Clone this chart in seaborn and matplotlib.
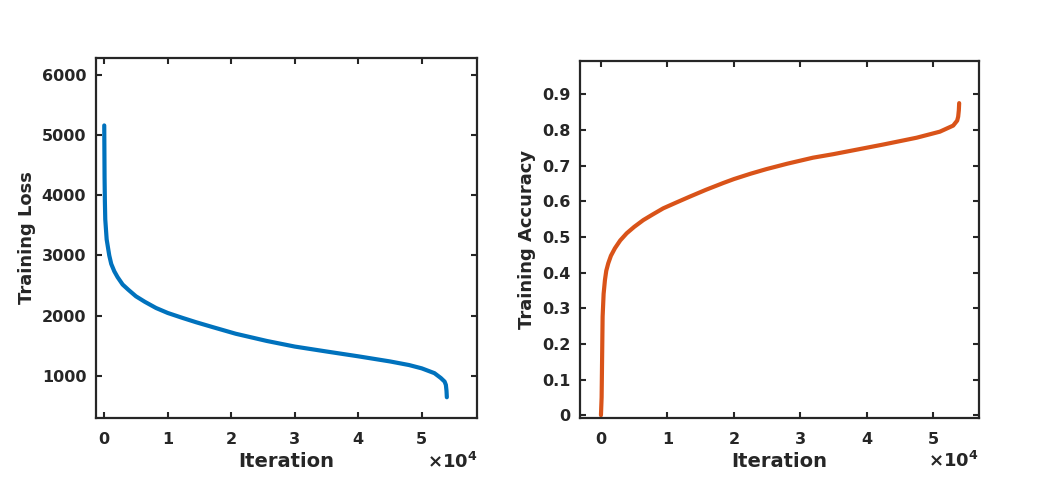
import seaborn as sns
import pandas as pd
import matplotlib.pyplot as plt

# curvas
iter_loss = [0, 50, 100, 160, 380, 790, 1100, 1580, 2100, 2900, 3800, 4990, 6400, 8150,
             10000, 12350, 14500, 17080, 20700, 25600, 30000, 35000, 40000, 45000,
             48000, 50000, 52000, 53000, 53600, 53800, 53900, 53950]
loss = [5160, 4300, 3900, 3600, 3267, 3000, 2860, 2738, 2640, 2517, 2430, 2322, 2230, 2128,
        2045, 1962, 1890, 1810, 1700, 1580, 1487, 1405, 1325, 1240,
        1180, 1125, 1045, 965, 905, 850, 750, 645]

iter_acc = [0, 100, 200, 250, 400, 600, 800, 1100, 1500, 2100, 2900, 3870, 5000, 6370,
            7800, 9370, 11300, 13390, 15800, 18400, 20000, 22500, 24900, 28000, 31900,
            35000, 37500, 40000, 42500, 47500, 51000, 53000, 53600, 53750, 53850, 53900]
acc = [0, 0.05, 0.2, 0.276, 0.34, 0.379, 0.405, 0.426, 0.447, 0.468, 0.49, 0.51, 0.528, 0.547,
       0.563, 0.58, 0.596, 0.613, 0.632, 0.651, 0.662, 0.677, 0.69, 0.705, 0.722,
       0.732, 0.741, 0.75, 0.759, 0.778, 0.795, 0.812, 0.826, 0.837, 0.855, 0.875]

x_ticks = [0, 10000, 20000, 30000, 40000, 50000]
x_ticklabels = ["0", "1", "2", "3", "4", "5"]
loss_ticks = [1000, 2000, 3000, 4000, 5000, 6000]
acc_ticks = [0, 0.1, 0.2, 0.3, 0.4, 0.5, 0.6, 0.7, 0.8, 0.9]
acc_ticklabels = ["0", "0.1", "0.2", "0.3", "0.4", "0.5", "0.6", "0.7", "0.8", "0.9"]

sns.set_style("ticks")
plt.rcParams['font.family'] = ['DejaVu Sans']
plt.rcParams['font.weight'] = 'bold'
cor_txt = "#262626"

df_loss = pd.DataFrame({"Iteration": iter_loss, "Loss": loss})
df_acc = pd.DataFrame({"Iteration": iter_acc, "Acc": acc})

fig = plt.figure(figsize=(10.56, 4.79), dpi=100)
ax1 = fig.add_axes([0.0909, 0.1273, 0.3608, 0.7516])
ax2 = fig.add_axes([0.5492, 0.1273, 0.3778, 0.746])

sns.lineplot(data=df_loss, x="Iteration", y="Loss", ax=ax1, color="#0072BD",
             linewidth=3, estimator=None)
sns.lineplot(data=df_acc, x="Iteration", y="Acc", ax=ax2, color="#D95319",
             linewidth=3, estimator=None)

ax1.set_xlim(-1300, 58700)
ax1.set_ylim(300, 6280)
ax1.set_yticks(loss_ticks)
ax1.set_yticklabels([str(t) for t in loss_ticks])
ax1.set_ylabel("Training Loss")

ax2.set_xlim(-3160, 56870)
ax2.set_ylim(-0.008, 0.994)
ax2.set_yticks(acc_ticks)
ax2.set_yticklabels(acc_ticklabels)
ax2.set_ylabel("Training Accuracy")

for ax in (ax1, ax2):
    ax.set_xticks(x_ticks)
    ax.set_xticklabels(x_ticklabels)
    ax.set_xlabel("Iteration", fontsize=14, fontweight="bold", color=cor_txt, labelpad=4)
    ax.yaxis.label.set_fontsize(13)
    ax.yaxis.label.set_fontweight("bold")
    ax.yaxis.label.set_color(cor_txt)
    ax.tick_params(direction="in", length=4, width=1.5, top=True, right=True,
                   labelsize=11.5, colors=cor_txt, pad=7)
    ax.tick_params(axis="x", pad=10)
    for lbl in ax.get_xticklabels() + ax.get_yticklabels():
        lbl.set_fontweight("bold")
    for sp in ax.spines.values():
        sp.set_visible(True)
        sp.set_linewidth(1.6)
        sp.set_color(cor_txt)
    ax.text(1.0, -0.093, r"$\times\mathbf{10^{4}}$", transform=ax.transAxes,
            ha="right", va="top", fontsize=13, color=cor_txt)

fig.savefig("out.png", dpi=100)
